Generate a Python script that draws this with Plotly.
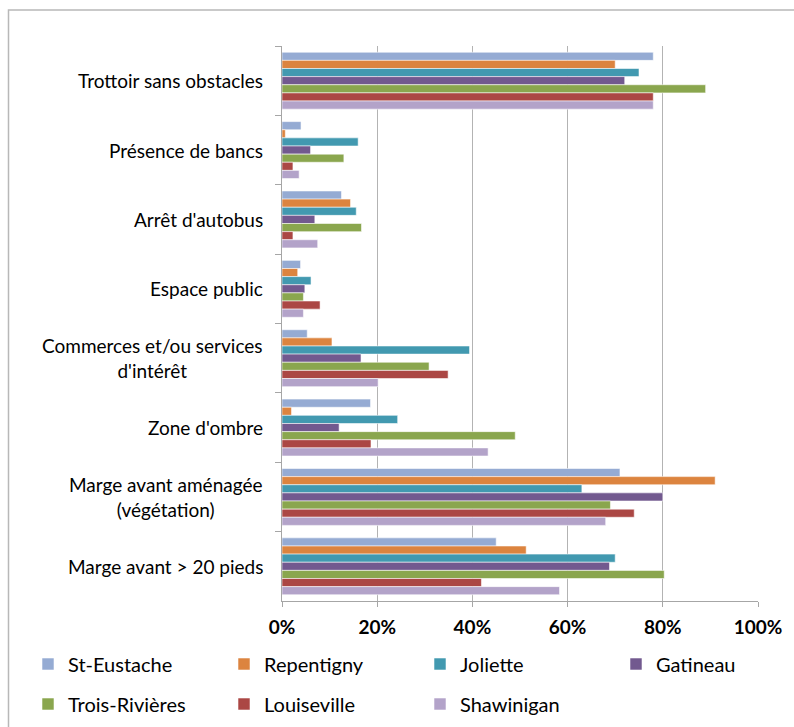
import plotly.graph_objects as go

categories = [
    "Trottoir sans obstacles",
    "Présence de bancs",
    "Arrêt d'autobus",
    "Espace public",
    "Commerces et/ou services<br>d'intérêt",
    "Zone d'ombre",
    "Marge avant aménagée<br>(végétation)",
    "Marge avant > 20 pieds",
]

st_eustache = [78.0, 4.0, 12.5, 3.9, 5.3, 18.6, 71.0, 45.0]
repentigny = [70.0, 0.7, 14.4, 3.3, 10.5, 2.0, 91.0, 51.3]
joliette = [75.0, 16.0, 15.6, 6.1, 39.4, 24.3, 63.0, 70.0]
gatineau = [72.0, 6.0, 6.9, 4.8, 16.6, 12.0, 80.0, 68.8]
trois_rivieres = [89.0, 13.0, 16.7, 4.5, 30.9, 49.0, 69.0, 80.3]
louiseville = [78.0, 2.3, 2.3, 8.0, 34.9, 18.7, 74.0, 41.9]
shawinigan = [78.0, 3.6, 7.5, 4.5, 20.2, 43.3, 68.0, 58.3]

series_names = ["St-Eustache", "Repentigny", "Joliette", "Gatineau",
                "Trois-Rivières", "Louiseville", "Shawinigan"]
series_values = [st_eustache, repentigny, joliette, gatineau,
                 trois_rivieres, louiseville, shawinigan]
colors = ["#95ABD3", "#DC843F", "#4299B0", "#72598F",
          "#8AA64E", "#AB4744", "#B3A3C9"]

x_tickvals = [0, 20, 40, 60, 80, 100]
x_ticktext = ["0%", "20%", "40%", "60%", "80%", "100%"]

FONT = "Lato, Carlito, Calibri, 'Open Sans', sans-serif"

W, H = 794, 727
L, R, T, B = 282, 36, 46, 126
pw = W - L - R
ph = H - T - B

def px_x(px):
    return (px - L) / pw

def px_y(py):
    return (H - B - py) / ph

# legend slot positions (pixels): 4 columns, 2 rows
legend_cols = [28, 224, 420, 616]
legend_rows = [664, 704]

fig = go.Figure()
legend_layouts = {}
for i, (name, vals, col) in enumerate(zip(series_names, series_values, colors)):
    lname = "legend" if i == 0 else f"legend{i + 1}"
    fig.add_trace(go.Bar(
        y=categories, x=vals, name=name, orientation="h",
        marker=dict(color=col, line=dict(color="rgba(255,255,255,0.55)", width=1)),
        legend=lname, showlegend=True,
    ))
    legend_layouts[lname] = dict(
        orientation="h", xanchor="left", yanchor="middle",
        x=px_x(legend_cols[i % 4]), y=px_y(legend_rows[i // 4]),
        itemwidth=30,
        font=dict(family=FONT, size=20, color="#000000"),
        bgcolor="rgba(0,0,0,0)",
    )

annotations = []
for c in categories:
    annotations.append(dict(
        x=0, xref="paper", y=c, yref="y", text=c, showarrow=False,
        xanchor="right", yanchor="middle", align="center", xshift=-17,
        font=dict(family=FONT, size=19, color="#000000"),
    ))

fig.update_layout(
    width=W, height=H,
    showlegend=True,
    margin=dict(l=L, r=R, t=T, b=B, autoexpand=False),
    paper_bgcolor="white", plot_bgcolor="white",
    barmode="group", bargap=0.18, bargroupgap=0,
    font=dict(family=FONT, size=16, color="#000000"),
    xaxis=dict(
        range=[0, 100], tickvals=x_tickvals, ticktext=x_ticktext,
        showgrid=True, gridcolor="#B3B3B3", gridwidth=1.3,
        showline=True, linecolor="#A6A6A6", linewidth=1.3,
        ticks="outside", ticklen=5, tickcolor="#A6A6A6", tickwidth=1.3,
        ticklabelstandoff=4,
        tickfont=dict(family=FONT, size=19, color="#000000", weight="bold"),
        zeroline=False, fixedrange=True,
    ),
    yaxis=dict(
        autorange="reversed", showticklabels=False,
        showline=True, linecolor="#A6A6A6", linewidth=1.3,
        ticks="outside", ticklen=6, tickcolor="#A6A6A6", tickwidth=1.3,
        tickson="boundaries", showgrid=False, zeroline=False,
    ),
    annotations=annotations,
    shapes=[dict(
        type="rect", xref="paper", yref="paper",
        x0=px_x(8.5), x1=px_x(820), y0=px_y(760), y1=px_y(10),
        line=dict(color="#B8B8B8", width=1.5), layer="below",
    )],
    **legend_layouts,
)

fig.write_html("out.html")
